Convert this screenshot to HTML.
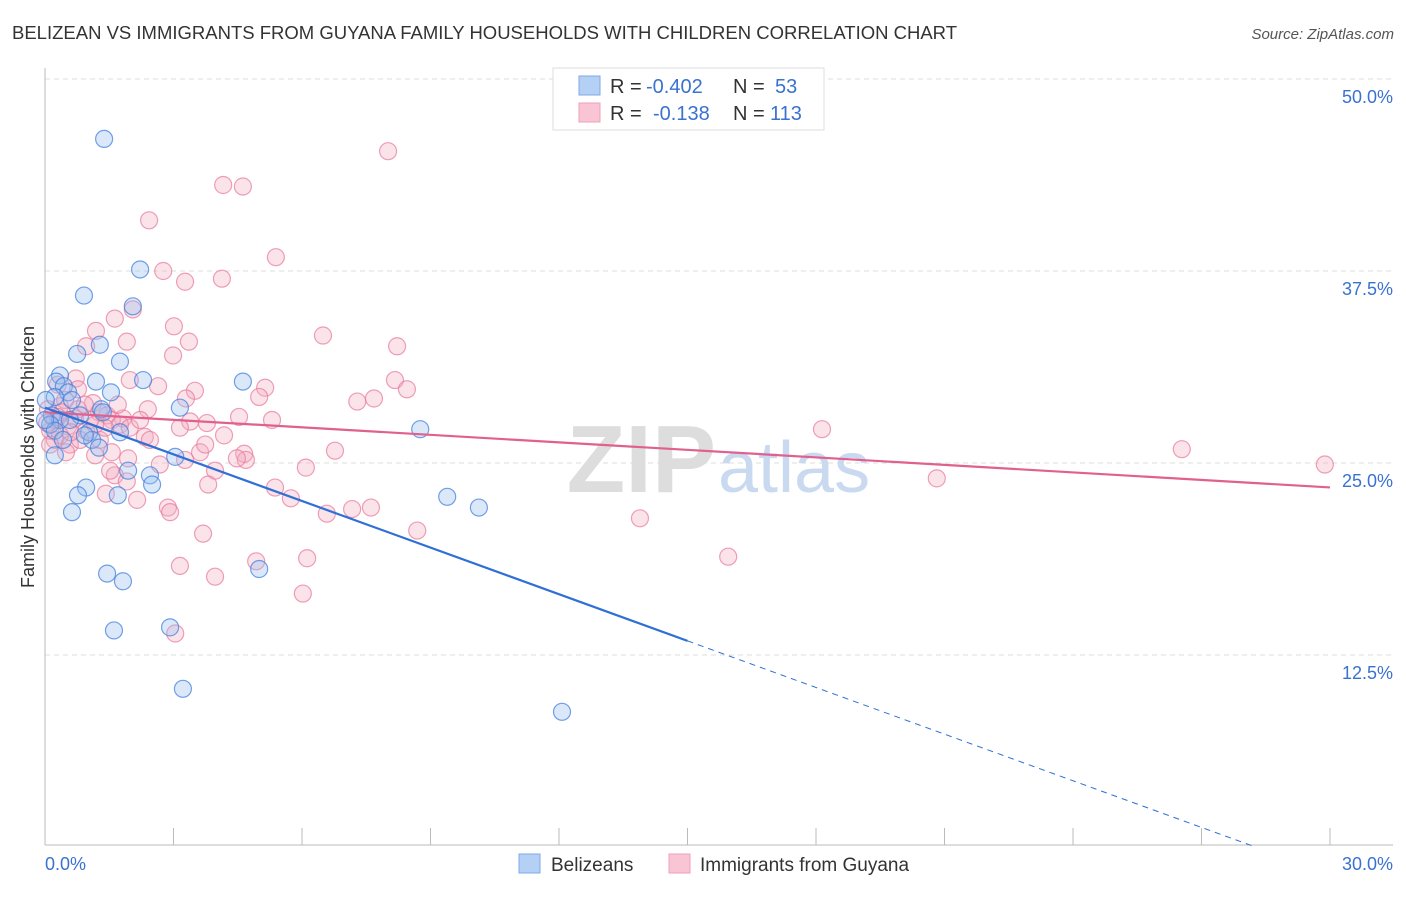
<!DOCTYPE html>
<html><head><meta charset="utf-8"><style>
body{margin:0;background:#fff;font-family:"Liberation Sans",sans-serif;}
</style></head><body>
<svg id="chart" width="1406" height="892" xmlns="http://www.w3.org/2000/svg">
<text x="12" y="39" font-size="18.5" fill="#333">BELIZEAN VS IMMIGRANTS FROM GUYANA FAMILY HOUSEHOLDS WITH CHILDREN CORRELATION CHART</text>
<text x="1394" y="39" font-size="15" fill="#555" text-anchor="end" font-style="italic">Source: ZipAtlas.com</text>
<g id="grid"></g>
<text x="716" y="492" font-size="96" fill="#ddd" text-anchor="end" font-weight="bold">ZIP</text>
<text x="718" y="492" font-size="72" fill="#c9daf0">atlas</text>
<text transform="translate(34,457) rotate(-90)" font-size="18" fill="#333" text-anchor="middle">Family Households with Children</text>
<g id="marks"></g>
<g>
<rect x="553" y="68" width="271" height="62" fill="#fff" stroke="#ddd"/>
<rect x="579" y="76" width="21" height="19" fill="#b5d0f5" stroke="#7fa8e6"/>
<rect x="579" y="103" width="21" height="19" fill="#f9c5d4" stroke="#eda0b8"/>
<g font-size="20" fill="#333">
<text x="610" y="93">R =</text><text x="646" y="93" fill="#3a72d0">-0.402</text><text x="733" y="93">N =</text><text x="775" y="93" fill="#3a72d0">53</text>
<text x="610" y="120">R =</text><text x="653" y="120" fill="#3a72d0">-0.138</text><text x="733" y="120">N =</text><text x="770" y="120" fill="#3a72d0">113</text>
</g>
</g>
<g>
<rect x="519" y="854" width="21" height="19" fill="#b5d0f5" stroke="#7fa8e6"/>
<text x="551" y="871" font-size="19" fill="#333">Belizeans</text>
<rect x="669" y="854" width="21" height="19" fill="#f9c5d4" stroke="#eda0b8"/>
<text x="700" y="871" font-size="19" fill="#333">Immigrants from Guyana</text>
</g>
</svg>
<script>
const yTicks=[12.5,25,37.5,50];
const yTickLabels=["12.5%","25.0%","37.5%","50.0%"];
const xTickVals=[0,3,6,9,12,15,18,21,24,27,30];
const blueX=[1.38,2.22,0.91,2.05,1.28,0.75,1.75,0.35,0.26,1.19,2.29,4.62,0.44,0.54,1.54,0.23,3.15,0.63,1.31,0.16,0.35,8.76,0.12,0.23,1.03,1.10,1.75,1.26,0.23,3.04,1.94,2.45,2.50,0.96,0.77,1.70,9.39,10.13,0.63,1.45,1.82,5.0,1.61,2.92,3.22,12.07,0.82,0.0,0.58,0.93,0.42,1.35,0.02];
const blueY=[46.1,37.6,35.9,35.2,32.7,32.1,31.6,30.7,30.3,30.3,30.4,30.3,30.0,29.6,29.6,29.3,28.6,29.1,28.5,28.1,27.8,27.2,27.5,27.1,27.0,26.5,27.0,26.0,25.5,25.4,24.5,24.2,23.6,23.4,22.9,22.9,22.8,22.1,21.8,17.8,17.3,18.1,14.1,14.3,10.3,8.8,28.1,27.8,27.8,26.8,26.5,28.3,29.1];
const pinkX=[8.01,4.16,4.62,2.43,5.39,2.76,4.13,3.27,2.05,1.63,3.01,1.19,6.49,3.36,1.91,8.22,0.96,2.99,0.72,1.98,2.64,8.17,5.14,8.45,3.50,3.29,5.00,7.29,7.68,1.12,2.40,0.35,0.77,1.26,1.45,1.82,4.53,5.30,3.39,3.78,3.15,18.14,0.54,0.96,2.33,4.18,6.77,1.56,1.94,3.62,4.65,4.69,4.48,26.54,29.88,6.09,1.63,3.97,3.81,1.91,20.82,5.37,1.42,5.74,2.15,2.87,2.92,7.17,7.61,6.58,13.89,8.69,3.69,6.12,4.93,15.95,3.15,3.97,6.02,3.04,0.23,0.12,0.35,0.58,0.07,0.47,0.70,1.28,1.56,1.75,0.23,0.12,1.05,0.40,0.82,1.40,1.70,1.17,1.98,0.49,0.93,2.22,2.45,0.77,0.30,1.17,1.52,2.68,3.74,3.27,0.05,0.6,0.3];
const pinkY=[45.3,43.1,43.0,40.8,38.4,37.5,37.0,36.8,35.0,34.4,33.9,33.6,33.3,32.9,32.9,32.6,32.6,32.0,30.5,30.4,30.0,30.4,29.9,29.8,29.7,29.2,29.3,29.0,29.2,28.9,28.5,28.7,28.5,28.3,28.1,27.9,28.0,27.8,27.7,27.6,27.3,27.2,27.4,27.1,26.7,26.8,25.8,25.7,25.3,25.7,25.6,25.2,25.3,25.9,24.9,24.7,24.2,24.5,23.6,23.8,24.0,23.4,23.0,22.7,22.6,22.1,21.8,22.0,22.1,21.7,21.4,20.6,20.4,18.8,18.6,18.9,18.3,17.6,16.5,13.9,26.5,27.1,26.8,26.2,28.5,29.1,27.9,26.5,27.8,27.5,27.8,26.2,27.8,28.3,26.5,27.3,28.8,27.5,27.3,25.7,28.8,27.8,26.5,29.8,30.1,25.5,24.5,24.9,26.2,25.2,27.6,27.0,28.0];
const blueFit=[28.6,-1.012];
const pinkFit=[28.3,-0.163];
const X0=45,X1=1330,Y0=847,PX_PER=15.36;
const sx=v=>X0+v/30*(X1-X0);
const sy=v=>Y0-v*PX_PER;
const NS="http://www.w3.org/2000/svg";
function mk(tag,attrs,parent){const e=document.createElementNS(NS,tag);for(const k in attrs)e.setAttribute(k,attrs[k]);parent.appendChild(e);return e;}
const gridG=document.getElementById('grid');
const marksG=document.getElementById('marks');
yTicks.forEach((t,i)=>{
  const l=mk('line',{x1:X0,x2:1393,y1:sy(t),y2:sy(t),stroke:'#ddd','stroke-dasharray':'5,4'},gridG);
  
  
  const tx=mk('text',{x:1393,y:sy(t)+24,'font-size':18,fill:'#3a72d0','text-anchor':'end'},gridG);
  tx.textContent=yTickLabels[i];
  
  
});
const topLine=mk('line',{x1:X0,x2:1393,y1:79,y2:79,stroke:'#ddd','stroke-dasharray':'5,4'},gridG);


const ya=mk('line',{x1:X0,x2:X0,y1:68,y2:845,stroke:'#bbb'},gridG);


const xa=mk('line',{x1:X0,x2:1393,y1:845,y2:845,stroke:'#bbb'},gridG);


xTickVals.forEach(t=>{
  const l=mk('line',{x1:sx(t),x2:sx(t),y1:828,y2:845,stroke:'#bbb'},gridG);
  
  
});
[["0.0%",X0,'start'],["30.0%",1393,'end']].forEach(a=>{
  const tx=mk('text',{x:a[1],y:870,'font-size':18,fill:'#3a72d0','text-anchor':a[2]},gridG);
  tx.textContent=a[0];
  
  
});
pinkX.forEach((v,i)=>{
  const c=mk('circle',{cx:sx(v),cy:sy(pinkY[i]),r:8.5,fill:'rgba(244,170,192,0.33)',stroke:'rgba(232,120,155,0.7)','stroke-width':1.2},marksG);
  
  
});
blueX.forEach((v,i)=>{
  const c=mk('circle',{cx:sx(v),cy:sy(blueY[i]),r:8.5,fill:'rgba(150,190,240,0.35)',stroke:'rgba(70,130,220,0.75)','stroke-width':1.2},marksG);
  
  
});
const pl=mk('line',{x1:sx(0),y1:sy(pinkFit[0]),x2:sx(30),y2:sy(pinkFit[0]+pinkFit[1]*30),stroke:'#e0608e','stroke-width':2.2},marksG);


const bEnd=15;
const bl=mk('line',{x1:sx(0),y1:sy(blueFit[0]),x2:sx(bEnd),y2:sy(blueFit[0]+blueFit[1]*bEnd),stroke:'#2f6fd6','stroke-width':2.2},marksG);


const xz=Math.min(-blueFit[0]/blueFit[1],30);
const bd=mk('line',{x1:sx(bEnd),y1:sy(blueFit[0]+blueFit[1]*bEnd),x2:sx(xz),y2:sy(Math.max(0,blueFit[0]+blueFit[1]*xz)),stroke:'#2f6fd6','stroke-width':1,'stroke-dasharray':'6,5'},marksG);


</script>
</body></html>
